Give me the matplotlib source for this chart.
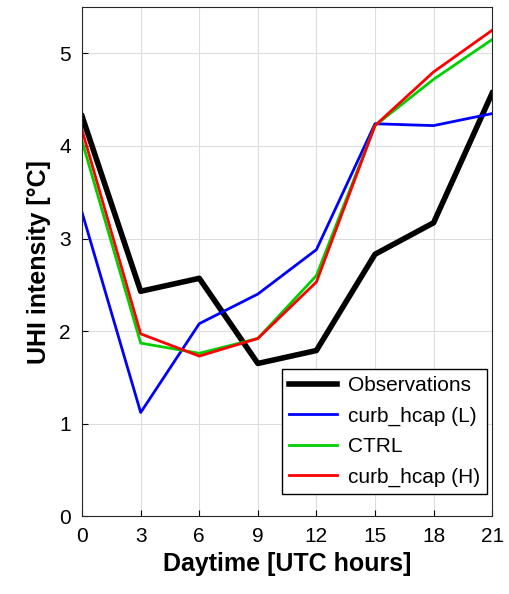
import matplotlib.pyplot as plt

hours = [0, 3, 6, 9, 12, 15, 18, 21]
obs = [4.32, 2.43, 2.57, 1.65, 1.79, 2.83, 3.17, 4.57]
curb_l = [3.28, 1.12, 2.08, 2.40, 2.88, 4.24, 4.22, 4.35]
ctrl = [4.05, 1.87, 1.76, 1.92, 2.60, 4.22, 4.72, 5.15]
curb_h = [4.17, 1.97, 1.73, 1.92, 2.53, 4.22, 4.80, 5.25]

plt.rcParams['font.family'] = ['Liberation Sans', 'DejaVu Sans']
fig = plt.figure(figsize=(5.1, 5.94), dpi=100)
ax = fig.add_axes([0.161, 0.131, 0.804, 0.857])

ax.plot(hours, obs, color='black', lw=4, label='Observations')
ax.plot(hours, curb_l, color='#0000ff', lw=2, label='curb_hcap (L)')
ax.plot(hours, ctrl, color='#00d000', lw=2, label='CTRL')
ax.plot(hours, curb_h, color='#ff0000', lw=2, label='curb_hcap (H)')

ax.set_xlim(0, 21)
ax.set_ylim(0, 5.5)
ax.set_xticks(hours)
ax.set_yticks([0, 1, 2, 3, 4, 5])
ax.grid(True, color='#dddddd', lw=0.8)
ax.tick_params(labelsize=15, direction='in', length=4, pad=8)
for s in ax.spines.values():
    s.set_color('#262626')
ax.set_xlabel('Daytime [UTC hours]', fontsize=18, fontweight='bold', labelpad=4)
ax.set_ylabel('UHI intensity [°C]', fontsize=18, fontweight='bold', labelpad=6)
leg = ax.legend(loc='lower right', bbox_to_anchor=(0.988, 0.043), borderaxespad=0,
                fontsize=15, fancybox=False, edgecolor='black', framealpha=1,
                handlelength=2.3, borderpad=0.35, labelspacing=0.55, handletextpad=0.5)
leg.get_frame().set_linewidth(1)

fig.savefig('out.png', dpi=100)
